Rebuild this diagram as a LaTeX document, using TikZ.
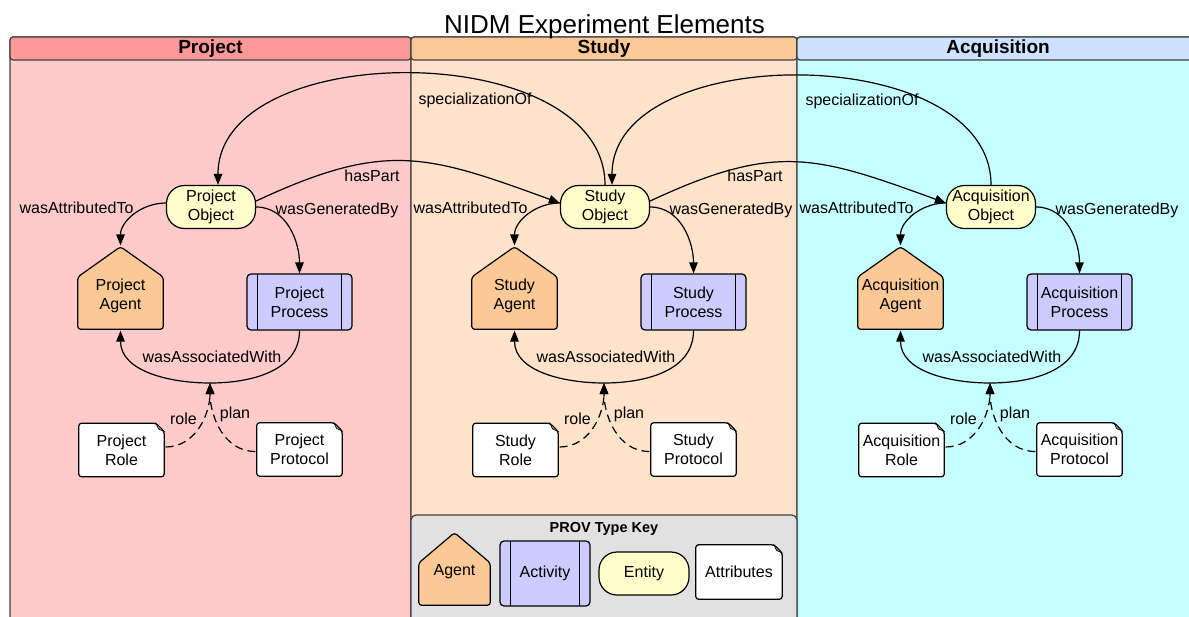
\documentclass[tikz,border=0pt]{standalone}
\usepackage{fontspec}
\setmainfont{Liberation Sans}
\usetikzlibrary{arrows.meta}

\definecolor{projhead}{RGB}{255,153,153}
\definecolor{projbody}{RGB}{255,202,202}
\definecolor{studyhead}{RGB}{252,202,152}
\definecolor{studybody}{RGB}{253,227,202}
\definecolor{acqhead}{RGB}{204,226,255}
\definecolor{acqbody}{RGB}{198,255,255}
\definecolor{agentfill}{RGB}{250,201,150}
\definecolor{actfill}{RGB}{204,204,255}
\definecolor{entfill}{RGB}{255,255,204}
\definecolor{keyfill}{RGB}{225,225,225}

\tikzset{
  arr/.style={-{Triangle[length=11pt,width=8.5pt]}},
  lane/.style={draw=black!75, rounded corners=3pt},
  entity/.style={draw, fill=entfill, rounded corners=18pt, minimum width=89pt, minimum height=43pt, inner sep=1pt, align=center},
  activity/.style={draw, fill=actfill, rounded corners=4pt, minimum width=105pt, minimum height=56pt, align=center,
    path picture={\draw ([xshift=10.5pt]path picture bounding box.north west) -- ([xshift=10.5pt]path picture bounding box.south west)
      ([xshift=-10.5pt]path picture bounding box.north east) -- ([xshift=-10.5pt]path picture bounding box.south east);}},
  agent/.style 2 args={minimum width=87pt, minimum height=84pt, inner sep=0pt,
    label={[yshift=#2, align=center]center:#1},
    path picture={\filldraw [fill=agentfill, rounded corners=3pt]
      ([shift={(.7pt,.7pt)}]path picture bounding box.south west) -- ([shift={(.7pt,-31pt)}]path picture bounding box.north west)
      -- ([yshift=-.7pt]path picture bounding box.north) -- ([shift={(-.7pt,-31pt)}]path picture bounding box.north east)
      -- ([shift={(-.7pt,.7pt)}]path picture bounding box.south east) -- cycle;}},
  attr/.style={minimum width=87pt, minimum height=55pt, align=center,
    path picture={\filldraw [fill=white, rounded corners=3pt]
      ([shift={(.7pt,.7pt)}]path picture bounding box.south west) -- ([shift={(.7pt,-.7pt)}]path picture bounding box.north west)
      -- ([shift={(-9pt,-.7pt)}]path picture bounding box.north east) -- ([shift={(-.7pt,-9pt)}]path picture bounding box.north east)
      -- ([shift={(-.7pt,.7pt)}]path picture bounding box.south east) -- cycle;
      \filldraw [fill=black!45, line width=.6pt] ([shift={(-9pt,-.7pt)}]path picture bounding box.north east)
      -- ([shift={(-.7pt,-9pt)}]path picture bounding box.north east) -- ([shift={(-6.5pt,-6.5pt)}]path picture bounding box.north east) -- cycle;}},
}

\begin{document}
\begin{tikzpicture}[x=1pt, y=1pt, line width=1.2pt, font=\fontsize{16}{19}\selectfont]
    \useasboundingbox (0,0) rectangle (1189,-616);
    \clip (0,0) rectangle (1189,-616);
    % swim lanes
    \filldraw [lane, fill=projbody] (10,-650) rectangle (411,-37);
    \filldraw [lane, fill=projhead] (10,-60) rectangle (411,-37);
    \filldraw [lane, fill=studybody] (411,-650) rectangle (797,-37);
    \filldraw [lane, fill=studyhead] (411,-60) rectangle (797,-37);
    \filldraw [lane, fill=acqbody] (797,-650) rectangle (1205,-37);
    \filldraw [lane, fill=acqhead] (797,-60) rectangle (1205,-37);
    \filldraw [lane, fill=keyfill, rounded corners=5pt] (411,-650) rectangle (797,-515);
    \node [anchor=base, font=\fontsize{26}{30}\selectfont] (title) at (604.5,-33) {NIDM Experiment Elements};
    \node [anchor=base, font=\bfseries\fontsize{19}{22}\selectfont] (phead) at (210.5,-53) {Project};
    \node [anchor=base, font=\bfseries\fontsize{19}{22}\selectfont] (shead) at (604,-53) {Study};
    \node [anchor=base, font=\bfseries\fontsize{19}{22}\selectfont] (ahead) at (998,-53) {Acquisition};
    % one block per lane
    \foreach \dx/\nm/\id in {0/Project/p, 394/Study/s, 780/Acquisition/a} {
      \node [entity] (\id obj) at (\dx+211,-207) {\nm\\Object};
      \node [agent={\nm\\Agent}{-7.5pt}] (\id agent) at (\dx+120.5,-288) {};
      \node [activity] (\id proc) at (\dx+299.5,-302) {\nm\\Process};
      \node [attr] (\id role) at (\dx+121.5,-450) {\nm\\Role};
      \node [attr] (\id prot) at (\dx+299.5,-449.5) {\nm\\Protocol};
      \coordinate (\id join) at (\dx+210,-383);
      \draw [arr] ([yshift=4pt]\id obj.west) to [out=180, in=90] (\id agent.north);
      \draw [arr] (\id obj.east) to [out=0, in=90] (\id proc.north);
      \draw [arr] (\id proc.south) to [out=-90, in=0] (\id join) to [out=180, in=-90] (\id agent.south);
      \draw [arr, dash pattern=on 8pt off 5pt] ([yshift=3pt]\id role.east) to [out=0, in=-90] (\id join);
      \draw [arr, dash pattern=on 8pt off 5pt] ([yshift=-2pt]\id prot.west) to [out=180, in=-90] (\id join);
      \node (\id attl) at (\dx+76.5,-208) {wasAttributedTo};
      \node (\id genl) at (\dx+337,-210) {wasGeneratedBy};
      \node (\id assl) at (\dx+212,-357) {wasAssociatedWith};
      \node (\id rolel) at (\dx+183.5,-419) {role};
      \node (\id planl) at (\dx+235,-414) {plan};
    }
    % links between lanes
    \draw [arr] (sobj.north) to [out=90, in=90, looseness=0.98] ([xshift=7pt]pobj.north);
    \draw [arr] (aobj.north) to [out=90, in=90, looseness=0.98] ([xshift=7pt]sobj.north);
    \node (spec1) at (475,-100) {specializationOf};
    \node (spec2) at (862,-101) {specializationOf};
    \draw [arr] ([yshift=6pt]pobj.east) to [out=25, in=160, looseness=1.2] ([yshift=4pt]sobj.west);
    \draw [arr] ([yshift=6pt]sobj.east) to [out=25, in=160, looseness=1.2] ([yshift=4pt]aobj.west);
    \node (part1) at (372,-176) {hasPart};
    \node (part2) at (755,-176) {hasPart};
    % key
    \node [font=\bfseries\fontsize{14.5}{17}\selectfont] (keyttl) at (604,-529) {PROV Type Key};
    \node [agent={Agent}{-3pt}, minimum width=73pt, minimum height=74pt] (kagent) at (454.5,-569) {};
    \node [activity, minimum width=90pt, minimum height=65pt] (kact) at (545,-573.5) {Activity};
    \node [entity, minimum width=90pt] (kent) at (644,-573.5) {Entity};
    \node [attr, minimum width=88pt, minimum height=56pt] (kattr) at (739,-572) {Attributes};
\end{tikzpicture}
\end{document}
